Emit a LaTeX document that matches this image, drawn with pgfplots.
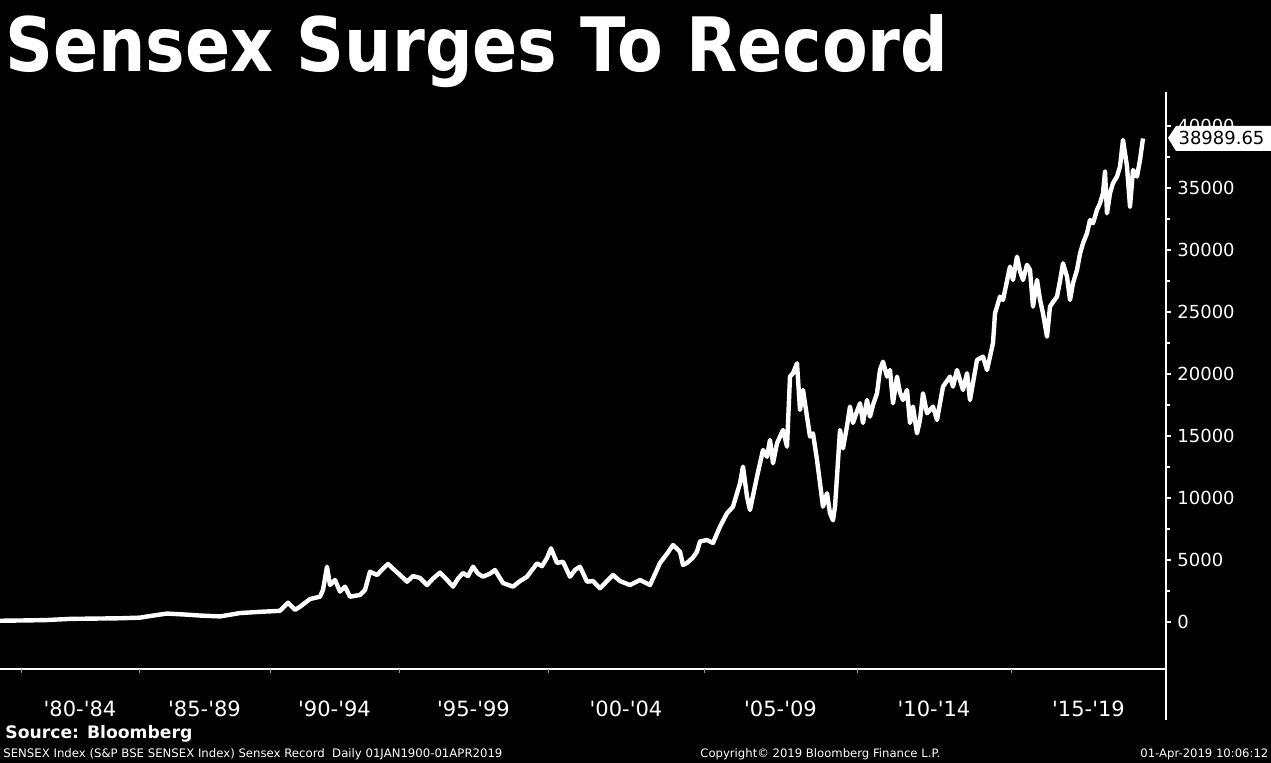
\documentclass[border=0pt]{standalone}
\usepackage{fontspec}
\setmainfont{DejaVu Sans}
\usepackage{pgfplots}
\pgfplotsset{compat=1.18}
\newcommand\q{\textquotesingle}
\begin{document}
\begin{tikzpicture}[x=1pt,y=1pt]
\fill[black] (0,0) rectangle (635.5,381.5);
\begin{axis}[
  at={(0pt,47pt)}, anchor=south west,
  scale only axis, width=583pt, height=288.5pt,
  xmin=0, xmax=1166, ymin=-3790, ymax=42742,
  clip=false,
  axis x line*=bottom, axis y line*=right,
  axis line style={white, line width=0.8pt},
  xtick={80,204.5,334.5,473.5,626,780.5,934,1088.5},
  xticklabels={\q80-\q84,\q85-\q89,\q90-\q94,\q95-\q99,\q00-\q04,\q05-\q09,\q10-\q14,\q15-\q19},
  xtick style={draw=none},
  xticklabel style={font=\fontsize{10.5}{12}\selectfont, text=white, anchor=center, yshift=-17.5pt},
  ytick={0,5000,10000,15000,20000,25000,30000,35000,40000},
  minor y tick num=1,
  ytick pos=right, yticklabel pos=right,
  tick align=outside,
  major tick length=2.5pt, minor tick length=2pt,
  ytick style={white, line width=0.6pt},
  yticklabel style={font=\fontsize{9}{11}\selectfont, text=white, anchor=west, inner sep=0pt, xshift=3pt},
  scaled y ticks=false,
  /pgf/number format/1000 sep={},
  /pgf/number format/assume math mode=true,
]
\addplot[white, line width=2.2pt, line join=round] coordinates {
(0,100) (20,120) (45,150) (70,250) (100,280) (120,300) (140,350) (150,480)
(167,680) (185,600) (200,520) (220,450) (240,720) (260,820) (280,900)
(288,1560) (295,980) (300,1230) (310,1850) (320,2040) (323,2580) (327,4460)
(330,2980) (335,3390) (340,2450) (345,2850) (350,2040) (360,2180) (365,2580)
(370,4060) (377,3790) (383,4300) (388,4680) (393,4300) (400,3790) (407,3250)
(413,3700) (420,3550) (427,2980) (433,3500) (440,3980) (447,3400) (453,2850)
(458,3500) (463,3950) (468,3700) (473,4460) (478,3900) (483,3650) (490,3900)
(495,4190) (503,3140) (513,2850) (520,3300) (527,3650) (537,4730) (542,4500)
(547,5160) (551,5940) (557,4760) (563,4860) (570,3650) (575,4200) (580,4460)
(587,3250) (593,3300) (600,2720) (607,3300) (613,3790) (620,3300) (630,2980)
(640,3390) (650,2980) (660,4760) (667,5500) (673,6210) (680,5670) (683,4600)
(687,4760) (693,5200) (697,5670) (700,6500) (707,6610) (713,6370) (720,7690)
(727,8770) (733,9300) (740,11190) (743,12530) (747,10110) (750,9030)
(757,11720) (763,13870) (767,13330) (770,14680) (773,12800) (777,14410)
(780,14950) (783,15480) (787,14140) (790,19790) (793,20060) (797,20860)
(800,17100) (803,18710) (807,16560) (810,14950) (813,15210) (817,13070)
(820,11190) (823,9300) (827,10380) (830,8770) (833,8200) (835,9300)
(837,11720) (840,15480) (843,14000) (847,15800) (850,17370) (853,16050)
(857,17000) (860,17640) (863,16050) (867,17900) (870,16560) (873,17500)
(877,18440) (880,20320) (883,20990) (887,19790) (890,20320) (893,17640)
(897,19790) (900,18500) (903,17900) (907,18710) (910,16050) (913,17370)
(917,15210) (920,16290) (923,18440) (927,16830) (933,17370) (937,16290)
(943,18980) (950,19790) (953,18980) (957,20320) (963,18710) (967,20060)
(970,17900) (977,21130) (983,21400) (987,20320) (993,22500) (995,24890)
(1000,26240) (1003,25970) (1007,27500) (1010,28660) (1013,27580) (1017,29460)
(1020,28300) (1023,27580) (1027,28800) (1030,28390) (1033,25430) (1037,27580)
(1040,26000) (1043,24890) (1047,23010) (1050,25430) (1053,25800) (1057,26240)
(1060,27500) (1063,28930) (1067,27850) (1070,25970) (1073,27320) (1077,28390)
(1080,29700) (1083,30540) (1087,31350) (1090,32420) (1093,32150) (1097,33230)
(1100,33770) (1103,34580) (1105,36320) (1107,32960) (1110,34580) (1113,35390)
(1117,35920) (1120,36730) (1123,38870) (1127,36730) (1130,33500) (1133,36450)
(1137,35920) (1140,37260) (1143,38990)
};
\pgfplotsinvokeforeach{21,139,270,399,548,704,857,1011}{
  \draw[gray!80, line width=0.5pt] (axis cs:#1,-3790) -- ++(0,-25.5pt);
}
\end{axis}
% extension of the right axis below the x axis
\draw[white, line width=0.8pt] (583,47) -- (583,21.5);
% callout
\fill[white] (584,312.5) -- (588,318.5) -- (635.5,318.5) -- (635.5,306) -- (588,306) -- cycle;
\node[text=black, font=\fontsize{9}{11}\selectfont, inner sep=0pt] at (610.75,312.3) {38989.65};
% title
\node[anchor=base west, inner sep=0pt, text=white] at (2.5,345.5)
  {\resizebox{471.5pt}{28.5pt}{\bfseries Sensex Surges To Record}};
% source & footer
\node[anchor=base west, inner sep=0pt, text=white] at (2.5,12)
  {\resizebox{93.5pt}{!}{\bfseries Source: Bloomberg}};
\node[anchor=base west, inner sep=0pt, text=white] at (1.5,2.5)
  {\resizebox{249.5pt}{!}{SENSEX Index (S\&P BSE SENSEX Index) Sensex Record\ \ Daily 01JAN1900-01APR2019}};
\node[anchor=base west, inner sep=0pt, text=white] at (350,2.5)
  {\resizebox{120pt}{!}{Copyright© 2019 Bloomberg Finance L.P.}};
\node[anchor=base west, inner sep=0pt, text=white] at (570,2.5)
  {\resizebox{64pt}{!}{01-Apr-2019 10:06:12}};
\pgfresetboundingbox
\useasboundingbox (0,0) rectangle (635.5,381.5);
\end{tikzpicture}
\end{document}
